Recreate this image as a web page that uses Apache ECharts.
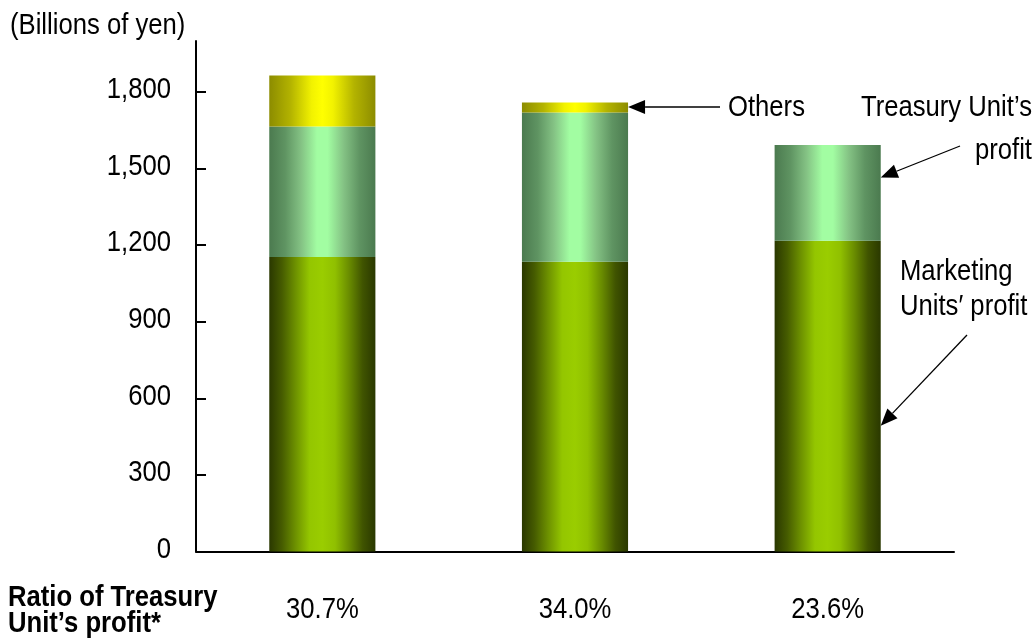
<!DOCTYPE html>
<html>
<head>
<meta charset="utf-8">
<script src="https://cdn.jsdelivr.net/npm/echarts@6/dist/echarts.min.js"></script>
<style>
  html, body { margin: 0; padding: 0; background: #fff; }
  #chart { width: 1036px; height: 642px; }
</style>
</head>
<body>
<div id="chart"></div>
<script>
// Profit breakdown (billions of yen)
const ratioLabels = ['30.7%', '34.0%', '23.6%'];
const marketingProfit = [1154, 1135, 1217];
const treasuryProfit = [511, 585, 376];
const othersProfit = [200, 39, 0];
const yTicks = [0, 300, 600, 900, 1200, 1500, 1800];

const FONT = "'Liberation Sans', Arial, sans-serif";
const FONT_SIZE = 30;
const NARROW = 0.855;   // horizontal squeeze for a narrow typeface look
const BAR_RATIO = 0.42;

function hGrad(stops) {
  return new echarts.graphic.LinearGradient(0, 0, 1, 0,
    stops.map(s => ({ offset: s[0], color: s[1] })));
}

const marketingFill = hGrad([
  [0, '#2a3800'], [0.12, '#465c00'], [0.25, '#6e9200'], [0.38, '#94c600'],
  [0.5, '#9acd00'], [0.62, '#90c000'], [0.75, '#6a8d00'], [0.88, '#405400'], [1, '#2a3800']
]);
const treasuryFill = hGrad([
  [0, '#4b7a4f'], [0.15, '#5f9462'], [0.3, '#84c284'], [0.45, '#a2fda2'],
  [0.55, '#a2fda2'], [0.7, '#84c284'], [0.85, '#5f9462'], [1, '#4b7a4f']
]);
const othersFill = hGrad([
  [0, '#8c8c00'], [0.2, '#b3b300'], [0.4, '#f2f200'], [0.5, '#ffff00'],
  [0.6, '#f2f200'], [0.8, '#b3b300'], [1, '#8c8c00']
]);

const chart = echarts.init(document.getElementById('chart'), null, { renderer: 'canvas' });

chart.setOption({
  animation: false,
  backgroundColor: '#fff',
  grid: { left: 196, right: 82, top: 41, bottom: 90.5 },
  xAxis: {
    type: 'category',
    data: ratioLabels,
    boundaryGap: true,
    axisLine: { lineStyle: { color: '#000', width: 2 } },
    axisTick: { inside: true, length: 10, lineStyle: { color: '#000', width: 2 } },
    axisLabel: { show: false }
  },
  yAxis: {
    type: 'value',
    min: 0,
    max: 2000,
    interval: 300,
    axisLine: { show: true, lineStyle: { color: '#000', width: 2 } },
    axisTick: { show: true, inside: true, length: 10, customValues: yTicks, lineStyle: { color: '#000', width: 2 } },
    axisLabel: { show: false },
    splitLine: { show: false }
  },
  series: [
    { name: "Marketing Units' profit", type: 'bar', stack: 'p', barWidth: (BAR_RATIO * 100) + '%',
      data: marketingProfit, itemStyle: { color: marketingFill } },
    { name: "Treasury Unit's profit", type: 'bar', stack: 'p',
      data: treasuryProfit, itemStyle: { color: treasuryFill } },
    { name: 'Others', type: 'bar', stack: 'p',
      data: othersProfit.map(v => v === 0 ? null : v), itemStyle: { color: othersFill } }
  ]
});

// Narrow text: a scaled group anchored at (x, y)
function label(text, x, y, align, bold) {
  return {
    type: 'group', x: x, y: y, scaleX: NARROW,
    children: [{
      type: 'text',
      style: {
        text: text, x: 0, y: 0, align: align || 'left', verticalAlign: 'middle',
        fontFamily: FONT, fontSize: FONT_SIZE, fontWeight: bold ? 'bold' : 'normal', fill: '#000'
      }
    }]
  };
}

const px = i => chart.convertToPixel({ xAxisIndex: 0 }, i);
const py = v => chart.convertToPixel({ yAxisIndex: 0 }, v);

// Arrow from a text anchor to the right edge of a bar at a given value
function arrow(from, cat, value) {
  const half = (px(1) - px(0)) * BAR_RATIO / 2;
  const tip = [px(cat) + half, py(value)];
  const dx = tip[0] - from[0], dy = tip[1] - from[1];
  const len = Math.sqrt(dx * dx + dy * dy);
  const ux = dx / len, uy = dy / len;
  const headL = 17, headW = 7;
  const bx = tip[0] - ux * headL, by = tip[1] - uy * headL;
  return [
    { type: 'line', shape: { x1: from[0], y1: from[1], x2: bx, y2: by },
      style: { stroke: '#000', lineWidth: 1.3 } },
    { type: 'polygon', shape: { points: [
        tip, [bx - uy * headW, by + ux * headW], [bx + uy * headW, by - ux * headW]
      ] }, style: { fill: '#000' } }
  ];
}

const yLabels = yTicks.map(v => label(v.toLocaleString('en-US'), 171, py(v) - 2, 'right'));
const xLabels = ratioLabels.map((t, i) => label(t, px(i), 610, 'center'));

const m0 = marketingProfit, t0 = treasuryProfit;
chart.setOption({
  graphic: [
    label('(Billions of yen)', 10, 26),
    label('Others', 728, 108),
    label("Treasury Unit\u2019s", 1032, 108, 'right'),
    label('profit', 1032, 151, 'right'),
    label('Marketing', 900, 272),
    label("Units\u2032 profit", 900, 307),
    label('Ratio of Treasury', 8, 598, 'left', true),
    label("Unit\u2019s profit*", 8, 624, 'left', true)
  ]
    .concat(yLabels)
    .concat(xLabels)
    .concat(arrow([720, 107], 1, m0[1] + t0[1] + othersProfit[1] * 0.55))
    .concat(arrow([960, 146], 2, m0[2] + t0[2] * 0.66))
    .concat(arrow([967, 335], 2, m0[2] * 0.405))
});
</script>
</body>
</html>
